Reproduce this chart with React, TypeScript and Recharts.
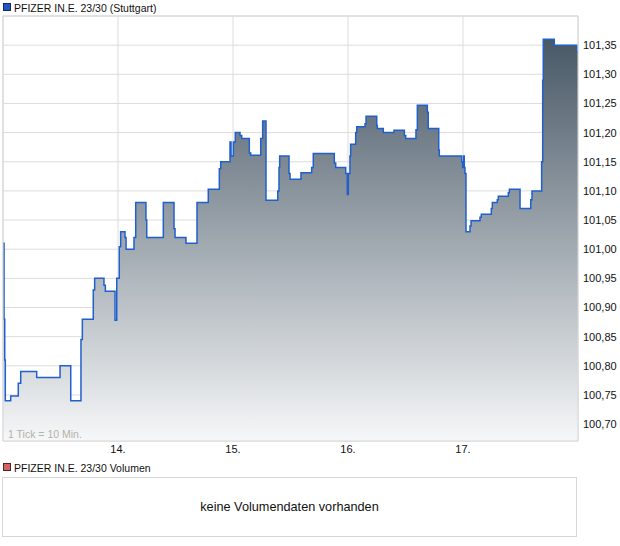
import React from "react";
import { AreaChart, Area, XAxis, YAxis, CartesianGrid, ReferenceLine } from "recharts";

// time in trading days since start of the 13th (0..5)
const times = [
  0.0, 0.009, 0.015, 0.02, 0.067, 0.133, 0.154, 0.293, 0.496, 0.589,
  0.678, 0.69, 0.785, 0.797, 0.878, 0.89, 0.974, 0.989, 1.011, 1.023,
  1.061, 1.07, 1.139, 1.154, 1.243, 1.25, 1.394, 1.487, 1.496, 1.591,
  1.687, 1.785, 1.881, 1.893, 1.974, 1.983, 2.003, 2.02, 2.061, 2.076,
  2.142, 2.154, 2.241, 2.258, 2.287, 2.389, 2.4, 2.406, 2.487, 2.496,
  2.591, 2.684, 2.698, 2.881, 2.893, 2.98, 2.994, 3.003, 3.017, 3.023,
  3.067, 3.076, 3.148, 3.157, 3.25, 3.255, 3.307, 3.4, 3.49, 3.502,
  3.591, 3.603, 3.69, 3.698, 3.789, 3.794, 3.989, 3.997, 4.006, 4.011,
  4.017, 4.026, 4.061, 4.07, 4.148, 4.159, 4.246, 4.255, 4.298, 4.307,
  4.394, 4.403, 4.496, 4.589, 4.6, 4.684, 4.693, 4.698, 4.794, 4.991, 5.0,
];

const prices = [
  101.01, 100.88, 100.81, 100.74, 100.748, 100.77, 100.79, 100.78, 100.8, 100.74,
  100.845, 100.88, 100.93, 100.95, 100.938, 100.928, 100.878, 100.95, 101.004, 101.03,
  101.02, 101.0, 101.02, 101.08, 101.05, 101.02, 101.08, 101.035, 101.02, 101.01,
  101.08, 101.103, 101.138, 101.15, 101.184, 101.16, 101.184, 101.2, 101.195, 101.19,
  101.165, 101.161, 101.19, 101.22, 101.084, 101.1, 101.14, 101.16, 101.13, 101.12,
  101.131, 101.14, 101.164, 101.148, 101.14, 101.13, 101.094, 101.13, 101.16, 101.18,
  101.2, 101.21, 101.215, 101.228, 101.212, 101.207, 101.2, 101.204, 101.195, 101.19,
  101.205, 101.247, 101.235, 101.207, 101.17, 101.16, 101.15, 101.14, 101.16, 101.14,
  101.13, 101.03, 101.04, 101.049, 101.055, 101.06, 101.07, 101.08, 101.085, 101.091,
  101.097, 101.103, 101.07, 101.085, 101.1, 101.15, 101.29, 101.36, 101.35, 101.339, 101.339,
];

const dayTicks = [1, 2, 3, 4];
const dayLabels = ["14.", "15.", "16.", "17."];

const priceTicks = [
  100.7, 100.75, 100.8, 100.85, 100.9, 100.95, 101.0, 101.05, 101.1, 101.15, 101.2, 101.25, 101.3, 101.35,
];

const yMin = 100.671;
const yMax = 101.4;

const title = "PFIZER IN.E. 23/30 (Stuttgart)";
const volumeTitle = "PFIZER IN.E. 23/30 Volumen";
const volumeEmpty = "keine Volumendaten vorhanden";
const tickNote = "1 Tick = 10 Min.";

const data = times.map((t, i) => ({ t, price: prices[i] }));

const font = '"Liberation Sans", Arial, sans-serif';
const border = "#d6d6d6";

export default function App() {
  return (
    <div
      style={{
        position: "absolute",
        left: 0,
        top: 0,
        width: 620,
        height: 546,
        background: "#fff",
        fontFamily: font,
      }}
    >
      {/* top legend */}
      <div style={{ position: "absolute", left: 3, top: 3, width: 6, height: 6, background: "#2255c4", border: "1px solid #1a2a55" }} />
      <div style={{ position: "absolute", left: 14, top: 1, fontSize: 10.5, lineHeight: "14px", color: "#111", whiteSpace: "nowrap" }}>
        {title}
      </div>

      <div style={{ position: "absolute", left: 0, top: 0 }}>
        <AreaChart width={620} height={462} data={data} margin={{ top: 16, right: 0, bottom: 0, left: 3 }}>
          <defs>
            <linearGradient id="priceFill" x1="0" y1="0" x2="0" y2="1">
              <stop offset="0%" stopColor="#485866" />
              <stop offset="100%" stopColor="#f6f7f8" />
            </linearGradient>
          </defs>
          <CartesianGrid stroke="#dcdcdc" strokeWidth={1} />
          <XAxis
            type="number"
            dataKey="t"
            domain={[0, 5]}
            ticks={dayTicks}
            tickFormatter={(v: number) => dayLabels[dayTicks.indexOf(v)] ?? ""}
            axisLine={false}
            tickLine={false}
            tickSize={0}
            tickMargin={4}
            height={21}
            tick={{ fontSize: 11, fill: "#111", fontFamily: font }}
            allowDataOverflow
          />
          <YAxis
            orientation="right"
            type="number"
            domain={[yMin, yMax]}
            ticks={priceTicks}
            tickFormatter={(v: number) => v.toFixed(2).replace(".", ",")}
            axisLine={false}
            tickLine={false}
            tickSize={0}
            tickMargin={5}
            width={42}
            tick={{ fontSize: 11, fill: "#111", fontFamily: font }}
            allowDataOverflow
          />
          <Area
            type="stepAfter"
            dataKey="price"
            stroke="#2060cc"
            strokeWidth={1.5}
            fill="url(#priceFill)"
            fillOpacity={1}
            isAnimationActive={false}
            dot={false}
            activeDot={false}
          />
          <ReferenceLine x={0} stroke={border} ifOverflow="visible" />
          <ReferenceLine x={5} stroke={border} ifOverflow="visible" />
          <ReferenceLine y={yMax} stroke={border} ifOverflow="visible" />
          <ReferenceLine y={yMin} stroke={border} ifOverflow="visible" />
        </AreaChart>
      </div>

      <div style={{ position: "absolute", left: 8, top: 428, fontSize: 10.5, lineHeight: "13px", color: "#b5b2aa", whiteSpace: "nowrap" }}>
        {tickNote}
      </div>

      {/* volume panel */}
      <div style={{ position: "absolute", left: 3, top: 463, width: 6, height: 6, background: "#d06464", border: "1px solid #552222" }} />
      <div style={{ position: "absolute", left: 14, top: 461, fontSize: 10.5, lineHeight: "14px", color: "#111", whiteSpace: "nowrap" }}>
        {volumeTitle}
      </div>
      <div
        style={{
          position: "absolute",
          left: 2,
          top: 477,
          width: 575,
          height: 60,
          border: `1px solid ${border}`,
          boxSizing: "border-box",
          display: "flex",
          alignItems: "center",
          justifyContent: "center",
          fontSize: 12.7,
          color: "#111",
        }}
      >
        {volumeEmpty}
      </div>
    </div>
  );
}
